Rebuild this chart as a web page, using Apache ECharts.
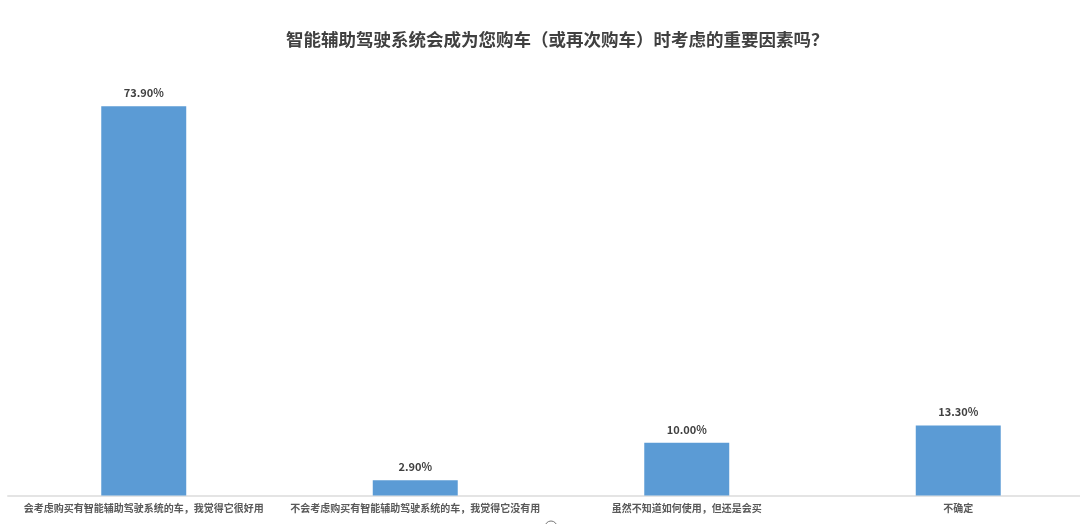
<!DOCTYPE html>
<html>
<head>
<meta charset="utf-8">
<script src="https://cdn.jsdelivr.net/npm/echarts@6/dist/echarts.min.js"></script>
<style>
html,body{margin:0;padding:0;background:#fff;}
#c{width:1080px;height:524px;}
</style>
</head>
<body>
<div id="c"></div>
<script>
const titleText = '智能辅助驾驶系统会成为您购车（或再次购车）时考虑的重要因素吗？';
const categories = [
  '会考虑购买有智能辅助驾驶系统的车，我觉得它很好用',
  '不会考虑购买有智能辅助驾驶系统的车，我觉得它没有用',
  '虽然不知道如何使用，但还是会买',
  '不确定'
];
const values = [73.9, 2.9, 10.0, 13.3];

const chart = echarts.init(document.getElementById('c'));
chart.setOption({
  backgroundColor: '#ffffff',
  animation: false,
  title: {
    text: titleText,
    left: 281,
    top: 26,
    textStyle: {
      fontFamily: 'Noto Sans CJK SC',
      fontSize: 17.5,
      fontWeight: 'bold',
      color: '#404040'
    }
  },
  grid: { left: 8, right: -14, top: 74, bottom: 28.5, containLabel: false, outerBoundsMode: 'none' },
  xAxis: {
    type: 'category',
    data: categories,
    axisLine: { show: true, lineStyle: { color: '#e4e4e4', width: 2 } },
    axisTick: { show: false },
    axisLabel: {
      interval: 0,
      margin: 8,
      fontFamily: 'Noto Sans CJK SC',
      fontSize: 10,
      fontWeight: 'bold',
      color: '#595959'
    }
  },
  yAxis: {
    type: 'value',
    min: 0,
    max: 80,
    show: false,
    splitLine: { show: false }
  },
  series: [{
    type: 'bar',
    data: values,
    barWidth: '31.3%',
    itemStyle: { color: '#5b9bd5' },
    label: {
      show: true,
      position: 'top',
      distance: 8,
      formatter: p => p.value.toFixed(2) + '%',
      fontFamily: 'Noto Sans CJK SC',
      fontSize: 11,
      fontWeight: 'bold',
      color: '#404040'
    }
  }],
  graphic: [{
    type: 'circle',
    shape: { cx: 551, cy: 527, r: 6 },
    style: { fill: 'none', stroke: '#777', lineWidth: 1 }
  }]
});
</script>
</body>
</html>
